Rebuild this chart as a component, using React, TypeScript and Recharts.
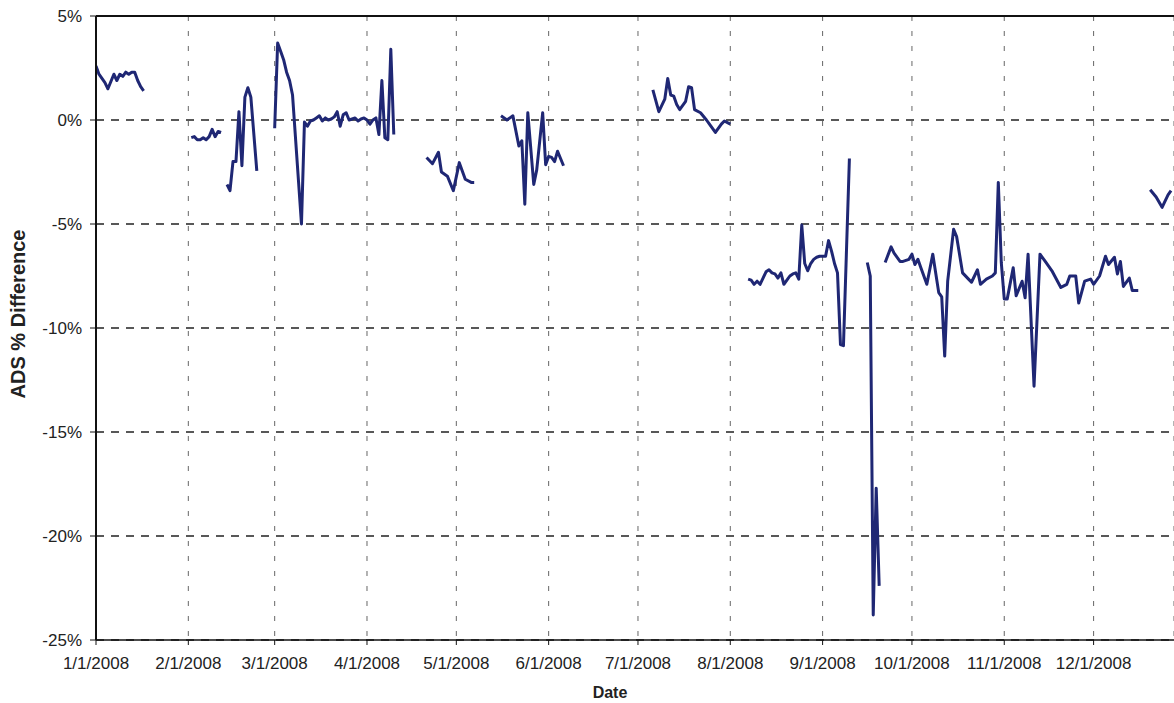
import { CartesianGrid, Line, LineChart, ReferenceLine, XAxis, YAxis } from 'recharts';

type Pt = [string, number];

// ADS % difference (month/day in 2008, percent)
const janSeg: Pt[] = [
  ['1/1', 2.6], ['1/2', 2.2], ['1/3', 2.0], ['1/4', 1.8], ['1/5', 1.5], ['1/7', 2.2], ['1/8', 1.9],
  ['1/9', 2.2], ['1/10', 2.1], ['1/11', 2.3], ['1/12', 2.2], ['1/13', 2.3], ['1/14', 2.3],
  ['1/15', 1.9], ['1/16', 1.6], ['1/17', 1.4],
];
const febEarly: Pt[] = [
  ['2/2', -0.85], ['2/3', -0.8], ['2/4', -0.95], ['2/5', -0.95], ['2/6', -0.85], ['2/7', -0.95],
  ['2/8', -0.8], ['2/9', -0.45], ['2/10', -0.8], ['2/11', -0.55], ['2/12', -0.6],
];
const febMid: Pt[] = [
  ['2/14', -3.1], ['2/15', -3.4], ['2/16', -2.0], ['2/17', -2.0], ['2/18', 0.4], ['2/19', -2.2],
  ['2/20', 1.1], ['2/21', 1.55], ['2/22', 1.1], ['2/24', -2.45],
];
const marApr: Pt[] = [
  ['3/1', -0.4], ['3/2', 3.7], ['3/3', 3.3], ['3/4', 2.9], ['3/5', 2.3], ['3/6', 1.9], ['3/7', 1.2],
  ['3/10', -5.0], ['3/11', -0.1], ['3/12', -0.3], ['3/13', -0.05], ['3/14', 0.0], ['3/15', 0.1],
  ['3/16', 0.2], ['3/17', -0.05], ['3/18', 0.1], ['3/19', 0.0], ['3/20', 0.05], ['3/21', 0.15],
  ['3/22', 0.4], ['3/23', -0.3], ['3/24', 0.25], ['3/25', 0.35], ['3/26', 0.0], ['3/27', 0.05],
  ['3/28', 0.1], ['3/29', -0.05], ['3/30', 0.05], ['3/31', 0.1], ['4/1', 0.0], ['4/2', -0.2],
  ['4/3', 0.0], ['4/4', 0.1], ['4/5', -0.7], ['4/6', 1.9], ['4/7', -0.85], ['4/8', -0.95],
  ['4/9', 3.4], ['4/10', -0.7],
];
const aprMay: Pt[] = [
  ['4/21', -1.8], ['4/23', -2.1], ['4/25', -1.55], ['4/26', -2.5], ['4/28', -2.7], ['4/30', -3.4],
  ['5/2', -2.05], ['5/4', -2.85], ['5/6', -3.0], ['5/7', -3.0],
];
const mayJun: Pt[] = [
  ['5/16', 0.2], ['5/18', 0.0], ['5/20', 0.2], ['5/22', -1.25], ['5/23', -1.0], ['5/24', -4.05],
  ['5/25', 0.35], ['5/27', -3.1], ['5/28', -2.4], ['5/30', 0.35], ['5/31', -2.15], ['6/1', -1.75],
  ['6/2', -1.8], ['6/3', -2.0], ['6/4', -1.5], ['6/6', -2.2],
];
const julAug: Pt[] = [
  ['7/6', 1.45], ['7/8', 0.4], ['7/10', 1.0], ['7/11', 2.0], ['7/12', 1.2], ['7/13', 1.15],
  ['7/14', 0.75], ['7/15', 0.5], ['7/17', 0.9], ['7/18', 1.6], ['7/19', 1.55], ['7/20', 0.5],
  ['7/22', 0.35], ['7/24', 0.0], ['7/25', -0.2], ['7/27', -0.6], ['7/29', -0.2], ['7/30', -0.05],
  ['8/1', -0.2],
];
const augSep: Pt[] = [
  ['8/7', -7.65], ['8/8', -7.7], ['8/9', -7.9], ['8/10', -7.75], ['8/11', -7.9], ['8/12', -7.6],
  ['8/13', -7.3], ['8/14', -7.2], ['8/15', -7.35], ['8/16', -7.4], ['8/17', -7.6], ['8/18', -7.35],
  ['8/19', -7.9], ['8/20', -7.7], ['8/21', -7.5], ['8/22', -7.4], ['8/23', -7.35], ['8/24', -7.65],
  ['8/25', -5.05], ['8/26', -6.9], ['8/27', -7.25], ['8/28', -6.9], ['8/29', -6.7], ['8/30', -6.6],
  ['8/31', -6.55], ['9/1', -6.55], ['9/2', -6.55], ['9/3', -5.8], ['9/4', -6.3], ['9/5', -6.9],
  ['9/6', -7.35], ['9/7', -10.8], ['9/8', -10.85], ['9/10', -1.85],
];
const sepDrop: Pt[] = [
  ['9/16', -6.85], ['9/17', -7.5], ['9/18', -23.8], ['9/19', -17.7], ['9/20', -22.4],
];
const octDec: Pt[] = [
  ['9/22', -6.85], ['9/24', -6.1], ['9/25', -6.4], ['9/27', -6.8], ['9/28', -6.8], ['9/30', -6.7],
  ['10/1', -6.45], ['10/2', -6.95], ['10/3', -6.7], ['10/4', -7.1], ['10/6', -7.9], ['10/8', -6.45],
  ['10/10', -8.3], ['10/11', -8.5], ['10/12', -11.35], ['10/13', -7.75], ['10/15', -5.25],
  ['10/16', -5.6], ['10/18', -7.35], ['10/20', -7.65], ['10/21', -7.8], ['10/23', -7.2],
  ['10/24', -7.9], ['10/26', -7.65], ['10/28', -7.5], ['10/29', -7.35], ['10/30', -3.0],
  ['10/31', -6.85], ['11/1', -8.6], ['11/2', -8.6], ['11/4', -7.1], ['11/5', -8.45], ['11/7', -7.75],
  ['11/8', -8.55], ['11/9', -6.45], ['11/11', -12.8], ['11/13', -6.45], ['11/15', -6.85],
  ['11/17', -7.25], ['11/20', -8.05], ['11/22', -7.9], ['11/23', -7.5], ['11/25', -7.5],
  ['11/26', -8.8], ['11/28', -7.75], ['11/30', -7.65], ['12/1', -7.9], ['12/3', -7.5], ['12/5', -6.55],
  ['12/6', -6.95], ['12/8', -6.6], ['12/9', -7.4], ['12/10', -6.8], ['12/11', -8.0], ['12/13', -7.6],
  ['12/14', -8.2], ['12/16', -8.2],
];
const decEnd: Pt[] = [
  ['12/20', -3.35], ['12/22', -3.7], ['12/24', -4.2], ['12/26', -3.6], ['12/27', -3.4],
];

const segments = [janSeg, febEarly, febMid, marApr, aprMay, mayJun, julAug, augSep, sepDrop, octDec, decEnd];

const monthTicks = ['1/1', '2/1', '3/1', '4/1', '5/1', '6/1', '7/1', '8/1', '9/1', '10/1', '11/1', '12/1'];
const yTicks = [5, 0, -5, -10, -15, -20, -25];

function toTime(md: string) {
  const [m, d] = md.split('/').map(Number);
  return Date.UTC(2008, m - 1, d);
}

const series = segments.map((seg) => seg.map(([md, v]) => ({ t: toTime(md), v })));
const xTicks = monthTicks.map(toTime);

const LINE = '#1f2774';
const FONT = 'Arial, "Liberation Sans", sans-serif';

export default function App() {
  return (
    <div style={{ width: 1174, height: 703, background: '#fff', fontFamily: FONT }}>
      <style>{'body{margin:0}'}</style>
      <LineChart width={1174} height={703} margin={{ top: 16, right: 0, bottom: 0, left: 0 }}>
        <CartesianGrid vertical={false} stroke="#222" strokeWidth={1.4} strokeDasharray="8 7" />
        <CartesianGrid horizontal={false} stroke="#666" strokeWidth={1} strokeDasharray="5 10" />
        <XAxis
          type="number"
          dataKey="t"
          scale="time"
          domain={[toTime('1/1'), toTime('12/28')]}
          ticks={xTicks}
          allowDataOverflow
          tickFormatter={(t: number) => `${new Date(t).getUTCMonth() + 1}/1/2008`}
          height={63}
          tickSize={5}
          tickMargin={12}
          stroke="#111"
          axisLine={{ stroke: '#111', strokeWidth: 1.5 }}
          tick={{ fill: '#222', fontSize: 17, fontFamily: FONT }}
          label={{
            content: () => (
              <text x={610} y={698} textAnchor="middle" fontSize={16} fontWeight="bold" fill="#222" fontFamily={FONT}>
                Date
              </text>
            ),
          }}
        />
        <YAxis
          type="number"
          domain={[-25, 5]}
          ticks={yTicks}
          width={96}
          allowDataOverflow
          tickFormatter={(v: number) => `${v}%`}
          tickSize={6}
          tickMargin={8}
          stroke="#111"
          axisLine={{ stroke: '#111', strokeWidth: 2 }}
          tick={{ fill: '#222', fontSize: 17, fontFamily: FONT }}
          label={{
            content: () => (
              <text
                x={18}
                y={314}
                transform="rotate(-90 18 314)"
                textAnchor="middle"
                dominantBaseline="central"
                fontSize={20}
                fontWeight="bold"
                fill="#222"
                fontFamily={FONT}
              >
                ADS % Difference
              </text>
            ),
          }}
        />
        <ReferenceLine y={5} stroke="#111" strokeWidth={2} />
        {series.map((data, i) => (
          <Line
            key={i}
            data={data}
            dataKey="v"
            type="linear"
            stroke={LINE}
            strokeWidth={3}
            strokeLinejoin="round"
            dot={false}
            activeDot={false}
            isAnimationActive={false}
          />
        ))}
      </LineChart>
    </div>
  );
}
